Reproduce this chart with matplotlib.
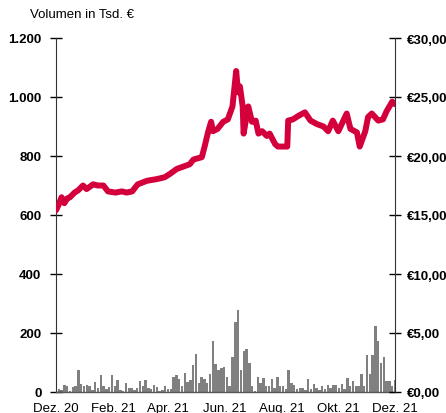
import matplotlib
matplotlib.use("Agg")
import matplotlib.pyplot as plt
import pandas as pd

plt.rcParams['font.family'] = ['Liberation Sans', 'DejaVu Sans']

# ---- data ----
price_dates = ["2020-12-01", "2020-12-04", "2020-12-07", "2020-12-10", "2020-12-13", "2020-12-16",
               "2020-12-21", "2020-12-25", "2020-12-30",
               "2021-01-03", "2021-01-10", "2021-01-15", "2021-01-21", "2021-01-26", "2021-02-03",
               "2021-02-10", "2021-02-15", "2021-02-21", "2021-02-27", "2021-03-09", "2021-03-20",
               "2021-03-28", "2021-04-03", "2021-04-10", "2021-04-24", "2021-04-28", "2021-05-07",
               "2021-05-10", "2021-05-14", "2021-05-17", "2021-05-19", "2021-05-24", "2021-05-30",
               "2021-06-04", "2021-06-09", "2021-06-13", "2021-06-15", "2021-06-17", "2021-06-20",
               "2021-06-21", "2021-06-26", "2021-06-30", "2021-07-04", "2021-07-07", "2021-07-11",
               "2021-07-16", "2021-07-19", "2021-07-25", "2021-07-28", "2021-08-02", "2021-08-07",
               "2021-08-08", "2021-08-13", "2021-08-19", "2021-08-26", "2021-09-01", "2021-09-08",
               "2021-09-15", "2021-09-20", "2021-09-25", "2021-10-01", "2021-10-10", "2021-10-14",
               "2021-10-21", "2021-10-24", "2021-10-30", "2021-11-02", "2021-11-06", "2021-11-13",
               "2021-11-18", "2021-11-22", "2021-11-28", "2021-12-01"]
price_values = [15.4, 15.9, 16.5, 16.0, 16.4, 16.5,
                16.9, 17.1, 17.5,
                17.2, 17.6, 17.5, 17.5, 17.0, 16.9,
                17.0, 16.9, 17.0, 17.6, 17.9, 18.05,
                18.2, 18.5, 18.9, 19.3, 19.7, 19.9,
                20.8, 22.1, 22.9, 22.1, 22.3, 22.9,
                23.1, 24.2, 27.2, 25.4, 25.9, 24.2,
                21.9, 24.2, 22.9, 23.0, 21.9, 22.1,
                21.7, 21.9, 21.0, 20.8, 20.8, 20.8,
                23.0, 23.1, 23.4, 23.7, 23.0, 22.7,
                22.5, 22.1, 23.0, 22.1, 23.6, 22.3,
                22.0, 20.8, 22.1, 23.3, 23.6, 23.0,
                23.1, 23.8, 24.6, 24.4]

vol_start = "2020-12-01"
vol_end = "2021-12-01"
volume_values = [37, 10, 8, 24, 22, 5, 18, 20, 75, 27,
                 20, 25, 20, 8, 33, 15, 58, 20, 10, 18,
                 58, 20, 42, 8, 5, 30, 15, 12, 8, 15,
                 37, 20, 42, 15, 10, 24, 18, 5, 8, 20,
                 10, 10, 50, 58, 45, 20, 65, 33, 40, 92,
                 130, 30, 52, 45, 30, 60, 173, 94, 73, 80,
                 86, 50, 20, 118, 237, 278, 73, 140, 145, 100,
                 20, 2, 50, 30, 48, 20, 20, 45, 15, 50,
                 20, 20, 10, 75, 30, 24, 10, 12, 15, 8,
                 45, 10, 28, 12, 7, 20, 10, 24, 15, 24,
                 24, 12, 28, 10, 48, 20, 37, 20, 20, 62,
                 20, 125, 60, 125, 225, 173, 100, 118, 37, 37,
                 20, 42]

x_ticks = ["2020-12-01", "2021-02-01", "2021-04-01", "2021-06-01",
           "2021-08-01", "2021-10-01", "2021-12-01"]
x_tick_labels = ["Dez. 20", "Feb. 21", "Apr. 21", "Jun. 21", "Aug. 21", "Okt. 21", "Dez. 21"]
vol_ticks = [0, 200, 400, 600, 800, 1000, 1200]
vol_tick_labels = ["0", "200", "400", "600", "800", "1.000", "1.200"]
price_ticks = [0, 5, 10, 15, 20, 25, 30]
price_tick_labels = ["€0,00", "€5,00", "€10,00", "€15,00", "€20,00", "€25,00", "€30,00"]

# ---- figure ----
fig = plt.figure(figsize=(4.46, 4.14), dpi=100)
ax = fig.add_axes([56/446, 21/414, 339/446, 354/414])
ax2 = ax.twinx()

vd = pd.date_range(vol_start, vol_end, periods=len(volume_values))
ax.bar(vd, volume_values, width=2.6, color='#808080', linewidth=0, align='center')

pd_dates = pd.to_datetime(price_dates)
ax2.plot(pd_dates, price_values, color='#d4003c', lw=4.3, solid_capstyle='round',
         solid_joinstyle='round')

xmin = pd.Timestamp("2020-12-01")
xmax = pd.Timestamp("2021-12-01")
ax.set_xlim(xmin, xmax)
ax.set_ylim(0, 1200)
ax2.set_ylim(0, 30)

ax.set_yticks(vol_ticks)
ax.set_yticklabels(vol_tick_labels, fontweight='bold', fontsize=9.5)
ax2.set_yticks(price_ticks)
ax2.set_yticklabels(price_tick_labels, fontweight='bold', fontsize=9.5)
ax.set_xticks(pd.to_datetime(x_ticks))
ax.set_xticklabels(x_tick_labels, fontsize=9.5)

for a in (ax, ax2):
    a.spines['top'].set_visible(False)
ax.spines['right'].set_visible(False)
ax2.spines['left'].set_visible(False)
ax2.spines['bottom'].set_visible(False)
ax.spines['left'].set_color('#333333')
ax2.spines['right'].set_color('#333333')
ax.spines['bottom'].set_color('#555555')
ax.spines['bottom'].set_linewidth(1.0)

ax.tick_params(axis='y', direction='inout', length=9, width=1, pad=6, colors='black')
ax2.tick_params(axis='y', direction='inout', length=9, width=1, pad=4, colors='black')
ax.tick_params(axis='x', length=0, pad=7)

fig.text(30/446, 1 - 15/414, "Volumen in Tsd. €", fontsize=9.5, va='center', ha='left')

fig.savefig("out.png", dpi=100)
